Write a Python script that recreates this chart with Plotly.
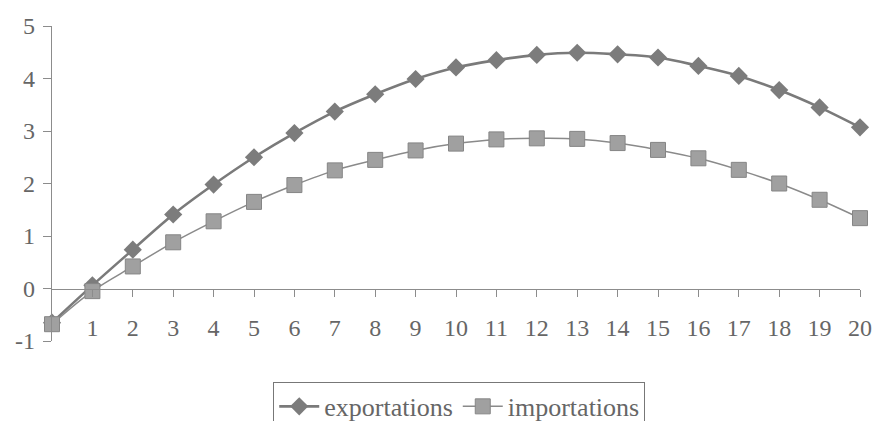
import plotly.graph_objects as go

# Periods on the horizontal axis
periods = list(range(0, 21))
x_tick_values = list(range(1, 21))
x_tick_labels = [str(p) for p in x_tick_values]
y_tick_values = list(range(-1, 6))
y_tick_labels = ["-1", "0", "1", "2", "3", "4", "5"]

# Series values
exportations = [-0.65, 0.06, 0.74, 1.41, 1.98, 2.50, 2.96, 3.37, 3.70, 3.99, 4.21,
                4.35, 4.45, 4.49, 4.46, 4.40, 4.24, 4.05, 3.78, 3.45, 3.07]
importations = [-0.68, -0.05, 0.42, 0.88, 1.28, 1.65, 1.97, 2.25, 2.45, 2.63, 2.76,
                2.84, 2.86, 2.85, 2.77, 2.64, 2.48, 2.26, 2.00, 1.69, 1.34]

TEXT = "#666666"
AXIS = "#8c8c8c"
FONT = "Liberation Serif"

fig = go.Figure()

fig.add_trace(go.Scatter(
    x=periods, y=exportations, name="exportations",
    mode="lines+markers", line=dict(color="#7a7a7a", width=2.6, shape="spline"),
    marker=dict(symbol="diamond", size=14, color="#7c7c7c"),
    cliponaxis=False,
))
fig.add_trace(go.Scatter(
    x=periods, y=importations, name="importations",
    mode="lines+markers", line=dict(color="#8a8a8a", width=1.5, shape="spline"),
    marker=dict(symbol="square", size=15, color="#a0a0a0",
                line=dict(color="#858585", width=1)),
    cliponaxis=False,
))

fig.update_layout(
    width=877, height=421,
    margin=dict(l=52, r=17, t=26, b=80, autoexpand=False),
    paper_bgcolor="white", plot_bgcolor="white",
    font=dict(family=FONT, color=TEXT, size=24),
    showlegend=True,
    legend=dict(
        orientation="h", x=0.504, xanchor="center", y=-0.13, yanchor="top",
        bordercolor="#777777", borderwidth=1, bgcolor="white",
        font=dict(family=FONT, size=26, color=TEXT),
        itemwidth=40,
    ),
    xaxis=dict(
        range=[0, 20], anchor="free", position=1/6, automargin=False,
        tickvals=x_tick_values, ticktext=x_tick_labels,
        showline=True, linecolor=AXIS, linewidth=1.2,
        ticks="outside", ticklen=7, tickcolor=AXIS, tickwidth=1.2,
        ticklabelstandoff=11,
        showgrid=False, zeroline=False,
        tickfont=dict(family=FONT, size=24, color=TEXT),
    ),
    xaxis2=dict(
        range=[0, 20], overlaying="x", anchor="free", position=1/6,
        tickvals=x_tick_values, showticklabels=False,
        ticks="inside", ticklen=7, tickcolor=AXIS, tickwidth=1.2,
        showline=False, showgrid=False, zeroline=False,
    ),
    yaxis=dict(
        range=[-1, 5], tickvals=y_tick_values, ticktext=y_tick_labels,
        automargin=False,
        showline=True, linecolor=AXIS, linewidth=1.2,
        ticks="outside", ticklen=8, tickcolor=AXIS, tickwidth=1.2,
        ticklabelstandoff=3,
        showgrid=False, zeroline=False,
        tickfont=dict(family=FONT, size=24, color=TEXT),
    ),
    yaxis2=dict(
        range=[-1, 5], overlaying="y", anchor="x", side="left",
        tickvals=y_tick_values, showticklabels=False,
        ticks="inside", ticklen=8, tickcolor=AXIS, tickwidth=1.2,
        showline=False, showgrid=False, zeroline=False,
    ),
)

fig.write_html("out.html")
